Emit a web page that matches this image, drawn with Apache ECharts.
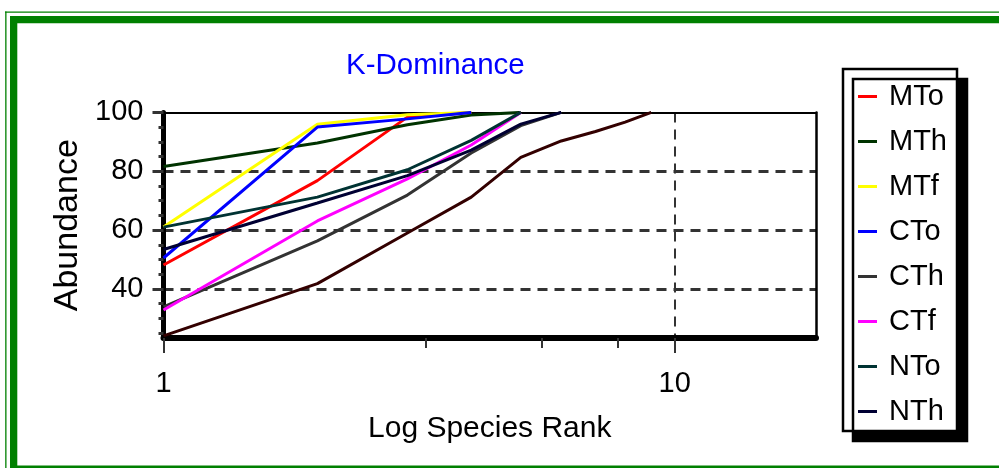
<!DOCTYPE html>
<html>
<head>
<meta charset="utf-8">
<script src="https://cdn.jsdelivr.net/npm/echarts@6/dist/echarts.min.js"></script>
<style>html,body{margin:0;padding:0;background:#fff;}#c{width:999px;height:468px;}</style>
</head>
<body>
<div id="c"></div>
<script>
// ---- data ----
const ranks = [1, 2, 3, 4, 5, 6, 7, 8, 9];
const seriesNames = ['MTo', 'MTh', 'MTf', 'CTo', 'CTh', 'CTf', 'NTo', 'NTh', 'NTf'];
const legendNames = ['MTo', 'MTh', 'MTf', 'CTo', 'CTh', 'CTf', 'NTo', 'NTh'];
const MTo = [48.1, 76.8, 98.4, 100];
const MTh = [81.6, 89.6, 95.8, 99.1, 100];
const MTf = [61, 96, 99.2, 100];
const CTo = [50.5, 95, 97.8, 100];
const CTh = [33.9, 56.3, 71.9, 86.2, 95.5, 100];
const CTf = [32.8, 63.1, 77.4, 88.9, 100];
const NTo = [61, 71.2, 80.5, 90.5, 100];
const NTh = [53.4, 69.2, 78.5, 87.2, 96, 100];
const NTf = [24, 41.8, 59, 71.2, 84.7, 90.3, 93.5, 96.7, 100];
const xTickLabels = [1, 10];
const xMinorTicks = [3.26, 5.5, 7.74];
const yTickLabels = [40, 60, 80, 100];
const yMajorTicks = [40, 60, 80];
const yMinorTicks = [25, 30, 35, 45, 50, 55, 65, 70, 75, 85, 90, 95];
const colors = ['#ff0000', '#003300', '#ffff00', '#0000ff', '#333333', '#ff00ff', '#003333', '#000033', '#330000'];

const values = [MTo, MTh, MTf, CTo, CTh, CTf, NTo, NTh, NTf];
const FONT = "'Liberation Sans', Arial, sans-serif";
const YMIN = 23.3, YMAX = 100, XMIN = 1, XMAX = 18.9;

const chart = echarts.init(document.getElementById('c'), null, {renderer: 'canvas'});
const hidden = {axisLine: {show: false}, axisTick: {show: false}, axisLabel: {show: false}, splitLine: {show: false}};
const option = {
  animation: false,
  backgroundColor: '#fff',
  color: colors,
  title: {
    text: 'K-Dominance', left: 341, top: 46,
    textStyle: {color: '#0000ff', fontSize: 29.5, fontWeight: 'normal', fontFamily: FONT}
  },
  grid: {left: 163.5, top: 112.4, width: 652.5, height: 225.6, containLabel: false, outerBoundsMode: 'none'},
  legend: {
    data: legendNames, orient: 'vertical', left: 843, top: 69,
    icon: 'rect', itemWidth: 19, itemHeight: 3, itemGap: 10,
    padding: [10, 10, 2, 15],
    backgroundColor: '#fff', borderColor: '#000', borderWidth: 2.5,
    shadowColor: '#000', shadowOffsetX: 10, shadowOffsetY: 10, shadowBlur: 0,
    selectedMode: false,
    itemStyle: {borderWidth: 0},
    textStyle: {fontSize: 29, fontFamily: FONT, color: '#000', lineHeight: 35, padding: [0, 0, 0, 7]}
  },
  xAxis: [
    {
      type: 'log', logBase: 10, min: XMIN, max: XMAX, position: 'bottom',
      axisLine: {onZero: false, lineStyle: {color: '#000', width: 6}},
      axisTick: {customValues: xTickLabels, length: 15, lineStyle: {color: '#333', width: 2}},
      axisLabel: {customValues: xTickLabels, margin: 31, fontSize: 29, fontFamily: FONT, color: '#000'},
      splitLine: {show: true, lineStyle: {type: [10, 7], color: '#333', width: 2}},
      minorTick: {show: false}, minorSplitLine: {show: false},
      name: 'Log Species Rank', nameLocation: 'middle', nameGap: 76,
      nameTextStyle: {fontSize: 30, fontFamily: FONT, color: '#000'}
    },
    Object.assign({type: 'log', logBase: 10, min: XMIN, max: XMAX, position: 'bottom'}, hidden, {
      axisTick: {show: true, customValues: xMinorTicks, length: 10, lineStyle: {color: '#333', width: 2}}
    }),
    Object.assign({type: 'log', logBase: 10, min: XMIN, max: XMAX, position: 'top'}, hidden, {
      axisLine: {show: true, onZero: false, lineStyle: {color: '#000', width: 2}}
    })
  ],
  yAxis: [
    {
      type: 'value', min: YMIN, max: YMAX, position: 'left',
      axisLine: {show: true, onZero: false, lineStyle: {color: '#000', width: 5}},
      axisTick: {customValues: yMajorTicks, length: 11, lineStyle: {color: '#333', width: 3}},
      axisLabel: {customValues: yTickLabels, margin: 20, fontSize: 29, fontFamily: FONT, color: '#000'},
      splitLine: {show: true, lineStyle: {type: [10, 7], color: '#333', width: 3}},
      name: 'Abundance', nameLocation: 'middle', nameGap: 72, nameRotate: 90,
      nameTextStyle: {fontSize: 34, fontFamily: FONT, color: '#000'}
    },
    Object.assign({type: 'value', min: YMIN, max: YMAX, position: 'left'}, hidden, {
      axisTick: {show: true, customValues: yMinorTicks, length: 5, lineStyle: {color: '#333', width: 3}}
    }),
    Object.assign({type: 'value', min: YMIN, max: YMAX, position: 'left'}, hidden, {
      axisTick: {show: true, customValues: [YMAX], length: 11, lineStyle: {color: '#333', width: 3}}
    }),
    Object.assign({type: 'value', min: YMIN, max: YMAX, position: 'right'}, hidden, {
      axisLine: {show: true, onZero: false, lineStyle: {color: '#000', width: 2.5}}
    })
  ],
  series: seriesNames.map((name, i) => ({
    name: name, type: 'line', xAxisIndex: 0, yAxisIndex: 0,
    data: values[i].map((v, j) => [ranks[j], v]),
    showSymbol: false, symbol: 'none', silent: true,
    lineStyle: {color: colors[i], width: 3},
    itemStyle: {color: colors[i]}
  })),
  graphic: [
    {type: 'rect', silent: true, shape: {x: 5, y: 11.5, width: 994, height: 1.3}, style: {fill: '#008000'}},
    {type: 'rect', silent: true, shape: {x: 5.2, y: 11.5, width: 1.3, height: 457}, style: {fill: '#008000'}},
    {type: 'rect', silent: true, shape: {x: 10, y: 16, width: 989, height: 7.3}, style: {fill: '#008000'}},
    {type: 'rect', silent: true, shape: {x: 10, y: 16, width: 7.3, height: 452}, style: {fill: '#008000'}},
    {type: 'rect', silent: true, shape: {x: 10, y: 465.5, width: 989, height: 3}, style: {fill: '#008000'}}
  ]
};
chart.setOption(option);
</script>
</body>
</html>
